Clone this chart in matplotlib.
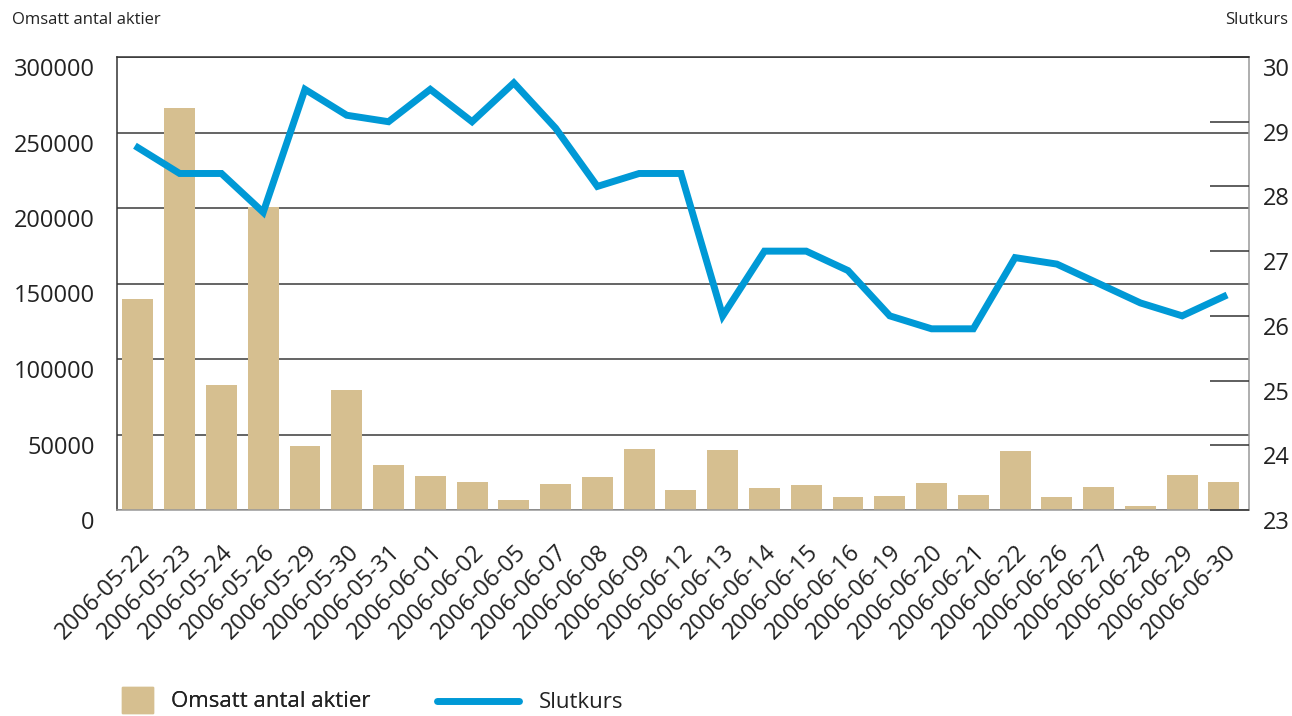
import matplotlib
matplotlib.use("Agg")
import matplotlib.pyplot as plt
import matplotlib.transforms as mtransforms
from matplotlib.patches import Patch
from matplotlib.lines import Line2D

dates = ["2006-05-22", "2006-05-23", "2006-05-24", "2006-05-26", "2006-05-29",
         "2006-05-30", "2006-05-31", "2006-06-01", "2006-06-02", "2006-06-05",
         "2006-06-07", "2006-06-08", "2006-06-09", "2006-06-12", "2006-06-13",
         "2006-06-14", "2006-06-15", "2006-06-16", "2006-06-19", "2006-06-20",
         "2006-06-21", "2006-06-22", "2006-06-26", "2006-06-27", "2006-06-28",
         "2006-06-29", "2006-06-30"]
volume = [140000, 266500, 83000, 200500, 42500, 79500, 29800, 22500, 18500, 6600,
          17200, 21900, 40400, 13200, 39700, 14600, 16600, 8600, 9300, 17900,
          9900, 39100, 8600, 15200, 2600, 23200, 18500]
close = [28.6, 28.2, 28.2, 27.6, 29.5, 29.1, 29.0, 29.5, 29.0, 29.6,
         28.9, 28.0, 28.2, 28.2, 26.0, 27.0, 27.0, 26.7, 26.0, 25.8,
         25.8, 26.9, 26.8, 26.5, 26.2, 26.0, 26.3]
left_ticks = [0, 50000, 100000, 150000, 200000, 250000, 300000]
right_ticks = [23, 24, 25, 26, 27, 28, 29, 30]

plt.rcParams['font.family'] = ['Open Sans', 'DejaVu Sans']
TXT = '#222222'
BAR = '#d6bf90'
LINE = '#0099d6'

fig = plt.figure(figsize=(12.92, 7.16), dpi=100)
ax = fig.add_axes([117/1292, 1-510/716, (1249-117)/1292, (510-57)/716])
x = list(range(len(dates)))
ax.bar(x, volume, width=0.74, color=BAR, zorder=2)
ax.set_axisbelow(True)
ax.set_ylim(0, 300000)
ax.set_xlim(-0.5, len(dates) - 0.4)
ax.set_yticks(left_ticks)
ax.set_yticklabels([str(v) for v in left_ticks])
ax.yaxis.grid(True, color='#3a3a3a', lw=1.1)
ax.tick_params(axis='y', length=0, pad=16, labelsize=17, labelcolor=TXT)
ax.set_xticks(x)
ax.set_xticklabels(dates, rotation=45, ha='right', rotation_mode='anchor',
                   fontsize=17, color=TXT)
ax.tick_params(axis='x', length=0, pad=22)
for s in ['left', 'top']:
    ax.spines[s].set_color('#333333')
for s in ['bottom', 'right']:
    ax.spines[s].set_color('#999999')
for s in ax.spines.values():
    s.set_linewidth(1.1)

ax2 = ax.twinx()
ax2.plot(x, close, color=LINE, lw=5, solid_joinstyle='miter', zorder=3)
ax2.set_ylim(23, 30)
ax2.set_yticks(right_ticks)
ax2.tick_params(axis='y', direction='in', length=28, width=1.1, color='#333333',
                pad=10, labelsize=17, labelcolor=TXT)
for s in ax2.spines.values():
    s.set_visible(False)

off = mtransforms.ScaledTranslation(0, -10/100, fig.dpi_scale_trans)
for lab in ax.get_yticklabels() + ax2.get_yticklabels():
    lab.set_transform(lab.get_transform() + off)

fig.text(12/1292, 1-20/716, 'Omsatt antal aktier', fontsize=12, color=TXT,
         ha='left', va='center')
fig.text(1288/1292, 1-20/716, 'Slutkurs', fontsize=12, color=TXT,
         ha='right', va='center')

leg1 = fig.legend(handles=[Patch(color=BAR, label='Omsatt antal aktier')],
                  loc='center left', bbox_to_anchor=(122/1292, 16/716),
                  frameon=False, fontsize=16, handlelength=1.4, handleheight=1.4,
                  handletextpad=0.8, borderpad=0, borderaxespad=0,
                  labelcolor=TXT)
fig.add_artist(leg1)
leg2 = fig.legend(handles=[Line2D([0], [0], color=LINE, lw=5,
                                  solid_capstyle='round', label='Slutkurs')],
                  loc='center left', bbox_to_anchor=(437/1292, 13/716),
                  frameon=False, fontsize=16, handlelength=3.7,
                  handletextpad=0.9, borderpad=0, borderaxespad=0,
                  labelcolor=TXT)

fig.savefig('out.png', dpi=100)
